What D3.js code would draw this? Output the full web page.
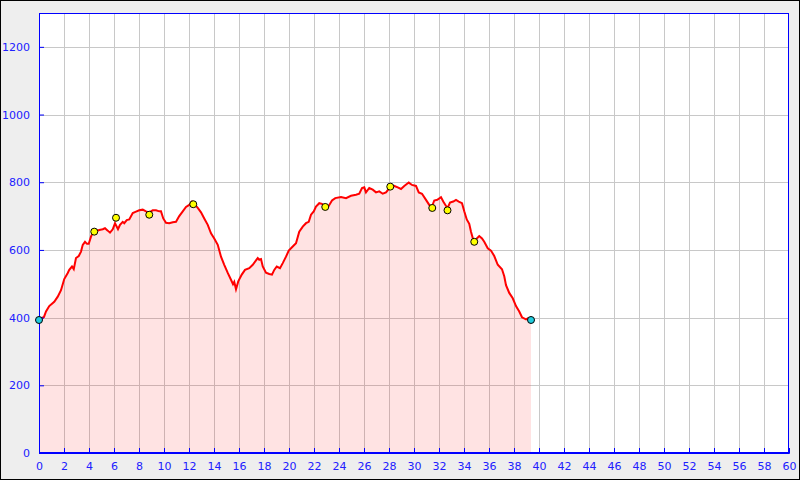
<!DOCTYPE html>
<html><head><meta charset="utf-8">
<script src="https://cdn.jsdelivr.net/npm/d3@7"></script>
<style>html,body{margin:0;padding:0;background:#eeeeee;}svg{display:block;}</style>
</head><body>
<svg id="chart" width="800" height="480"></svg>
<script>
// distance (km)
const distance = [0,0.4,0.56,0.82,1.22,1.5,1.76,2.02,2.3,2.42,2.64,2.78,2.96,3.18,3.36,3.5,3.68,3.84,3.98,4.16,4.3,4.56,4.82,5.1,5.28,5.5,5.68,5.9,6.08,6.32,6.48,6.7,6.82,7.02,7.22,7.5,7.76,8.02,8.3,8.56,8.82,9.1,9.36,9.62,9.76,9.94,10.16,10.42,10.7,10.96,11.22,11.5,11.76,12.02,12.24,12.5,12.7,12.96,13.22,13.5,13.76,14.02,14.3,14.56,14.82,15.1,15.36,15.52,15.62,15.76,15.94,16.22,16.48,16.82,17.1,17.36,17.5,17.62,17.76,17.9,18.16,18.42,18.64,18.82,19.02,19.28,19.5,19.76,19.98,20.3,20.56,20.82,21.1,21.36,21.58,21.76,21.98,22.16,22.42,22.64,22.9,23.18,23.44,23.7,24.16,24.56,24.96,25.36,25.62,25.84,26.02,26.16,26.42,26.7,26.96,27.22,27.5,27.76,28.02,28.42,28.7,28.96,29.22,29.58,29.84,30.16,30.38,30.64,30.96,31.22,31.44,31.62,31.86,32.16,32.34,32.56,32.7,32.88,33.14,33.36,33.58,33.84,34.02,34.22,34.42,34.56,34.7,34.82,35.02,35.22,35.44,35.62,35.9,36.16,36.42,36.7,37.04,37.22,37.36,37.62,37.9,38.16,38.42,38.64,38.96,39.1,39.36];
// elevation (m)
const elevation = [395,402,418,434,447,462,481,514,532,541,551,543,576,582,595,615,624,618,618,639,651,656,659,661,664,657,651,661,679,661,674,683,679,688,690,709,713,717,719,714,711,717,717,714,714,693,680,679,682,683,700,714,727,733,743,733,724,711,693,674,649,634,615,580,556,532,512,499,506,484,507,527,541,546,556,569,576,571,573,551,533,529,527,541,551,546,561,580,598,610,620,654,669,679,683,704,714,728,738,736,729,730,746,753,756,753,760,763,766,783,785,770,783,778,770,773,766,770,782,789,785,780,789,799,792,789,770,766,748,733,728,746,748,756,743,730,725,740,743,748,743,738,714,690,677,654,635,628,634,641,634,624,605,598,582,556,543,522,496,473,457,434,418,401,395,398,393];
// waypoints
const waypointX = [4.42,6.16,8.82,12.34,22.9,28.1,31.46,32.68,34.82];
const waypointY = [654,695,704,735,727,787,724,717,624];
// start / end points
const endpointX = [0,39.36];
const endpointY = [393,393];
const xTicks = d3.range(0,61,2);
const yTicks = [0,200,400,600,800,1000,1200];

const svg = d3.select("#chart");
const L=39,R=789,T=13,B=453;
const x = d3.scaleLinear().domain([0,60]).range([L,R]);
const y = d3.scaleLinear().domain([0,1300]).range([B,T]);

svg.append("rect").attr("x",0.5).attr("y",0.5).attr("width",799).attr("height",479)
  .attr("fill","#eeeeee").attr("stroke","#000").attr("stroke-width",1);
svg.append("rect").attr("x",L).attr("y",T).attr("width",R-L).attr("height",B-T).attr("fill","#fff");

// grid
const grid = svg.append("g").attr("stroke","#c8c8c8").attr("stroke-width",1);
xTicks.filter(d=>d>0&&d<60).forEach(d=>{
  grid.append("line").attr("x1",Math.round(x(d))+0.5).attr("x2",Math.round(x(d))+0.5).attr("y1",T).attr("y2",B);
});
yTicks.filter(d=>d>0).forEach(d=>{
  grid.append("line").attr("y1",Math.round(y(d))+0.5).attr("y2",Math.round(y(d))+0.5).attr("x1",L).attr("x2",R);
});

const data = distance.map((d,i)=>({x:d,y:elevation[i]}));
const area = d3.area().x(d=>x(d.x)).y0(y(0)).y1(d=>y(d.y));
svg.append("path").datum(data).attr("d",area).attr("fill","#ff0000").attr("fill-opacity",0.11);
const line = d3.line().x(d=>x(d.x)).y(d=>y(d.y));
svg.append("path").datum(data).attr("d",line).attr("fill","none").attr("stroke","#ff0000").attr("stroke-width",2).attr("stroke-linejoin","miter");

// frame
svg.append("rect").attr("x",L+0.5).attr("y",T+0.5).attr("width",R-L-1).attr("height",B-T-1)
  .attr("fill","none").attr("stroke","#0000ff").attr("stroke-width",1);

// axes
const xAxis = d3.axisBottom(x).tickValues(xTicks).tickSize(-5).tickPadding(9).tickFormat(d3.format("d"));
const gx = svg.append("g").attr("transform",`translate(0,${B})`).call(xAxis);
gx.select(".domain").attr("stroke","#0000ff");
gx.selectAll(".tick line").attr("stroke","#0000ff");
gx.selectAll(".tick text").attr("fill","#2020ff").attr("font-family","DejaVu Sans").attr("font-size",11);

const yAxis = d3.axisLeft(y).tickValues(yTicks).tickSize(-5).tickPadding(9).tickFormat(d3.format("d"));
const gy = svg.append("g").attr("transform",`translate(${L},0)`).call(yAxis);
gy.select(".domain").attr("stroke","#0000ff");
gy.selectAll(".tick line").attr("stroke","#0000ff");
gy.selectAll(".tick text").attr("fill","#2020ff").attr("font-family","DejaVu Sans").attr("font-size",11);

// markers
svg.append("g").selectAll("circle").data(waypointX.map((d,i)=>[d,waypointY[i]])).join("circle")
  .attr("cx",d=>x(d[0])).attr("cy",d=>y(d[1])).attr("r",3.5)
  .attr("fill","#ffff00").attr("stroke","#000").attr("stroke-width",1);
svg.append("g").selectAll("circle").data(endpointX.map((d,i)=>[d,endpointY[i]])).join("circle")
  .attr("cx",d=>x(d[0])).attr("cy",d=>y(d[1])).attr("r",3.5)
  .attr("fill","#22ccdd").attr("stroke","#000").attr("stroke-width",1);
</script>
</body></html>
